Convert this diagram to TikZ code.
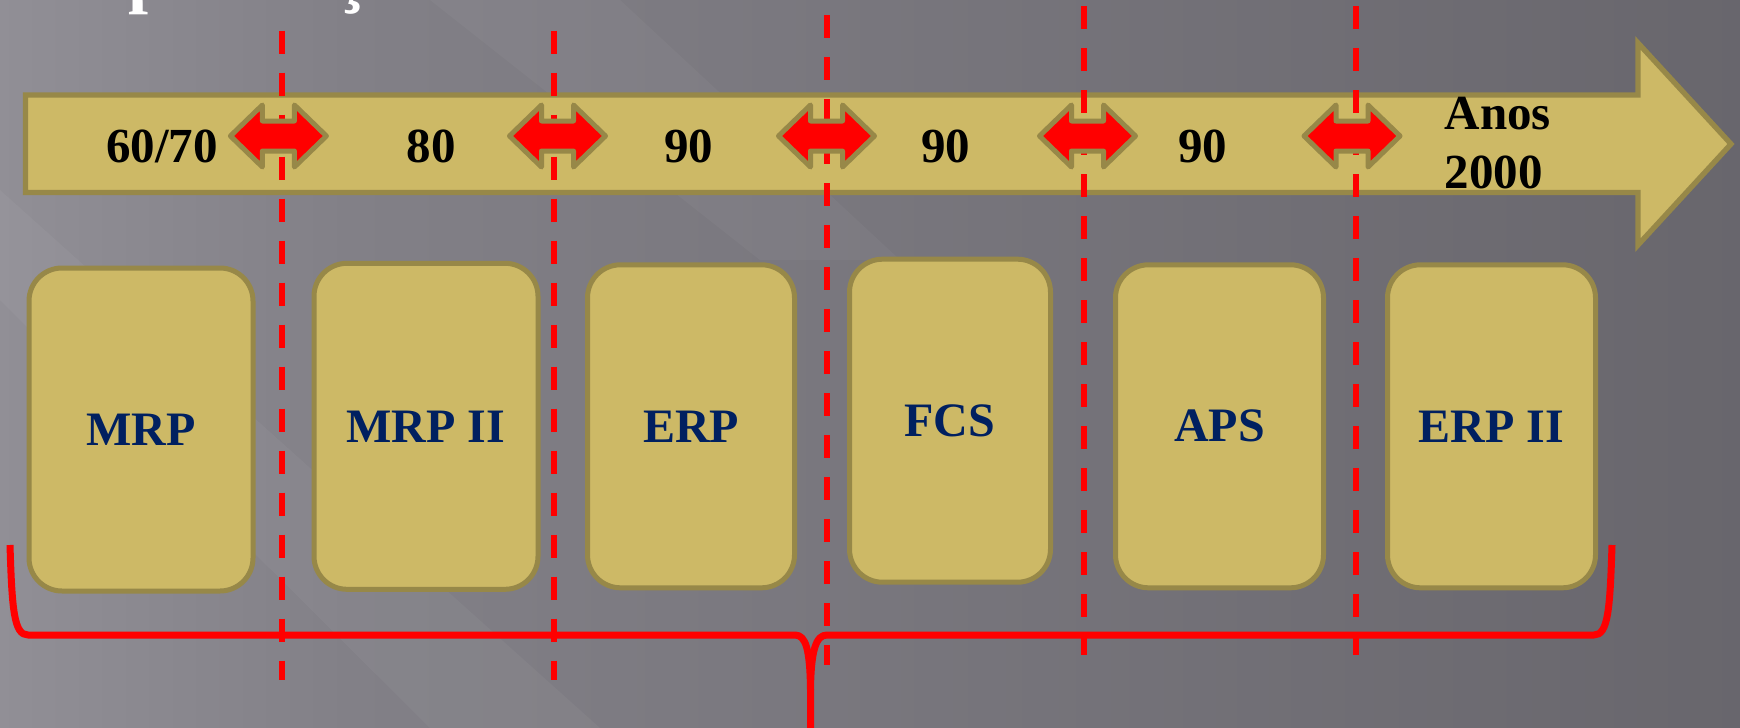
\documentclass[tikz,border=0pt]{standalone}
\usepackage{fontspec}
\setmainfont{Liberation Serif}
\definecolor{barfill}{RGB}{205,185,102}
\definecolor{barline}{RGB}{151,136,72}
\definecolor{navy}{RGB}{0,32,96}
\definecolor{bgA}{RGB}{182,180,187}
\definecolor{bgB}{RGB}{130,128,135}
\definecolor{bgC}{RGB}{88,86,92}
\pgfdeclarehorizontalshading{bgshade}{100bp}{color(0bp)=(bgA); color(35bp)=(bgB); color(100bp)=(bgC)}
\begin{document}
\begin{tikzpicture}[x=1pt,y=-1pt,
  bar/.style={fill=barfill, draw=barline, line width=5.3pt, line join=miter},
  dbl/.style={fill=red, draw=barline, line width=5pt, line join=round},
  period/.style={font=\bfseries\fontsize{49}{58}\selectfont, text=black, inner sep=0pt, anchor=base},
  sysbox/.style={fill=barfill, draw=barline, line width=5pt, rounded corners=33pt, inner sep=0pt,
    font=\bfseries\fontsize{48}{58}\selectfont, text=navy},
  divider/.style={draw=red, line width=6pt, dash pattern=on 23pt off 19pt},
  bracepath/.style={draw=red, line width=7pt, line join=round},
  titlebit/.style={text=white, font=\bfseries\fontsize{72}{72}\selectfont, inner sep=0pt}]
\useasboundingbox (0,0) rectangle (1740,728);
% background
\shade[shading=bgshade] (0,0) rectangle (1740,728);
\fill[white, opacity=0.04] (0,190) -- (0,300) -- (430,728) -- (600,728) -- cycle;
\fill[white, opacity=0.035] (430,0) -- (620,0) -- (900,260) -- (760,260) -- cycle;
% title fragments (cut off at the top, as in the reference)
\node[titlebit, anchor=base west] (t1) at (128,-1) {p};
\node[titlebit, anchor=base] (t2) at (351.5,-1) {ç};
% timeline arrow
\draw[bar] (25.5,95) -- (1638,95) -- (1638,43) -- (1731,144) -- (1638,245) -- (1638,192.5) -- (25.5,192.5) -- cycle;
% dashed dividers
\foreach \x/\t/\b in {282/30.7/680, 553.5/30.7/680, 826.5/15/665, 1084/6/655, 1356/6/655}
  \draw[divider] (\x,\t) -- (\x,\b);
% double arrows
\foreach \c in {278.4,557.5,826.5,1087.5,1352}
  \draw[dbl] (\c,136) ++(-48,0) -- ++(32,-31) -- ++(0,16) -- ++(32,0) -- ++(0,-16) -- ++(32,31)
    -- ++(-32,31) -- ++(0,-16) -- ++(-32,0) -- ++(0,16) -- cycle;
% period labels
\node[period] (l1) at (162,162) {60/70};
\node[period] (l2) at (431,162) {80};
\node[period] (l3) at (688.5,162) {90};
\node[period] (l4) at (945.7,162) {90};
\node[period] (l5) at (1202.6,162) {90};
\node[period, anchor=base west] (l6a) at (1444.5,129) {Anos};
\node[period, anchor=base west] (l6b) at (1444.5,188) {2000};
% system boxes
\node[sysbox, minimum width=224pt, minimum height=323pt] (mrp) at (141,429.5) {MRP};
\node[sysbox, minimum width=224pt, minimum height=326pt] (mrp2) at (426,426.3) {MRP II};
\node[sysbox, minimum width=207pt, minimum height=323pt] (erp) at (691,426.3) {ERP};
\node[sysbox, minimum width=201pt, minimum height=323pt] (fcs) at (950,420.7) {FCS};
\node[sysbox, minimum width=208pt, minimum height=323pt] (aps) at (1219.5,426.3) {APS};
\node[sysbox, minimum width=208pt, minimum height=323pt] (erp2) at (1491.5,426.3) {ERP II};
% brace
\coordinate (bl) at (10,545);
\coordinate (br) at (1612,545);
\coordinate (btip) at (810.5,735);
\draw[bracepath] (bl) .. controls (12,610) and (14,635) .. (28,635) -- (795,635)
  .. controls (806,635) and (810,650) .. (810.5,690) -- (btip);
\draw[bracepath] (br) .. controls (1610,610) and (1608,635) .. (1594,635) -- (827,635)
  .. controls (816,635) and (811,650) .. (810.5,690);
\end{tikzpicture}
\end{document}
